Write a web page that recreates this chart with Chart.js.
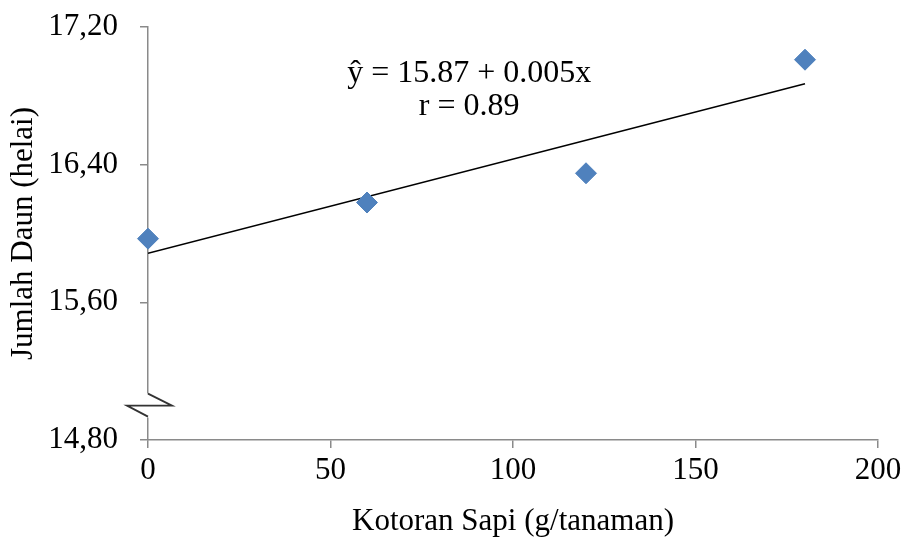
<!DOCTYPE html>
<html>
<head>
<meta charset="utf-8">
<script src="https://cdn.jsdelivr.net/npm/chart.js@4.4.1/dist/chart.umd.min.js"></script>
<style>
  html, body { margin: 0; padding: 0; background: #fff; }
  #wrap { width: 906px; height: 540px; }
</style>
</head>
<body>
<div id="wrap"><canvas id="chart" width="906" height="540"></canvas></div>
<script>
// Data
const doses = [0, 60, 120, 180];               // Kotoran Sapi (g/tanaman)
const leaves = [15.97, 16.18, 16.35, 17.01];    // Jumlah Daun (helai)
const trendX = [0, 180];
const trendY = [15.885, 16.87];
const xTicks = [0, 50, 100, 150, 200];
const yTicks = [14.8, 15.6, 16.4, 17.2];
const equationLines = ['\u0177 = 15.87 + 0.005x', 'r = 0.89'];

const FONT = 'Liberation Serif, Times New Roman, serif';
const AXIS = '#8a8a8a';

// equation text + axis break mark
const extras = {
  id: 'extras',
  afterDraw(chart) {
    const ctx = chart.ctx;
    const xs = chart.scales.x, ys = chart.scales.y;

    // regression text
    ctx.save();
    ctx.fillStyle = '#000';
    ctx.font = '32px ' + FONT;
    ctx.textAlign = 'center';
    ctx.textBaseline = 'middle';
    const tx = xs.getPixelForValue(88);
    ctx.fillText(equationLines[0], tx, ys.getPixelForValue(16.93));
    ctx.fillText(equationLines[1], tx, ys.getPixelForValue(16.74));
    ctx.restore();

    // break symbol on y axis
    const bx = xs.getPixelForValue(0);
    const by = ys.getPixelForValue(15.0);
    ctx.save();
    ctx.fillStyle = '#fff';
    ctx.fillRect(bx - 4, by - 12, 8, 24);
    ctx.strokeStyle = '#333';
    ctx.lineWidth = 1.8;
    ctx.beginPath();
    ctx.moveTo(bx, by - 12);
    ctx.lineTo(bx + 24, by);
    ctx.lineTo(bx - 21, by);
    ctx.lineTo(bx, by + 11);
    ctx.stroke();
    ctx.restore();
  }
};

new Chart(document.getElementById('chart'), {
  type: 'scatter',
  data: {
    datasets: [
      {
        label: 'Jumlah Daun',
        data: doses.map((d, i) => ({x: d, y: leaves[i]})),
        pointStyle: 'rectRot',
        pointRadius: 10.5,
        pointHoverRadius: 10.5,
        backgroundColor: '#4F81BD',
        borderColor: '#4F81BD',
        borderWidth: 1,
        clip: false,
        order: 1
      },
      {
        type: 'line',
        label: 'Linear',
        data: trendX.map((d, i) => ({x: d, y: trendY[i]})),
        borderColor: '#000',
        borderWidth: 1.4,
        pointRadius: 0,
        fill: false,
        order: 2
      }
    ]
  },
  options: {
    responsive: false,
    animation: false,
    layout: { padding: { left: 0, top: 27, right: 28, bottom: 0 } },
    plugins: { legend: { display: false }, tooltip: { enabled: false } },
    scales: {
      x: {
        type: 'linear',
        min: 0, max: 200,
        afterBuildTicks: s => { s.ticks = xTicks.map(v => ({value: v})); },
        afterFit: s => { s.height = 100; s.paddingLeft = 0; s.paddingRight = 0; },
        grid: { drawOnChartArea: false, color: AXIS, tickLength: 8, lineWidth: 1.5 },
        border: { color: AXIS, width: 1.5 },
        ticks: { color: '#000', font: { family: FONT, size: 31 }, padding: 4, maxRotation: 0 },
        title: { display: true, text: 'Kotoran Sapi (g/tanaman)', color: '#000',
                 font: { family: FONT, size: 31 }, padding: { top: 0, bottom: 0 } }
      },
      y: {
        type: 'linear',
        min: 14.8, max: 17.2,
        afterBuildTicks: s => { s.ticks = yTicks.map(v => ({value: v})); },
        afterFit: s => { s.width = 148; s.paddingTop = 0; s.paddingBottom = 0; },
        grid: { drawOnChartArea: false, color: AXIS, tickLength: 8, lineWidth: 1.5 },
        border: { color: AXIS, width: 1.5 },
        ticks: { color: '#000', font: { family: FONT, size: 31 }, padding: 22,
                 callback: v => v.toFixed(2).replace('.', ',') },
        title: { display: true, text: 'Jumlah Daun (helai)', color: '#000',
                 font: { family: FONT, size: 31 }, padding: { top: 5, bottom: 0 } }
      }
    }
  },
  plugins: [extras]
});
</script>
</body>
</html>
